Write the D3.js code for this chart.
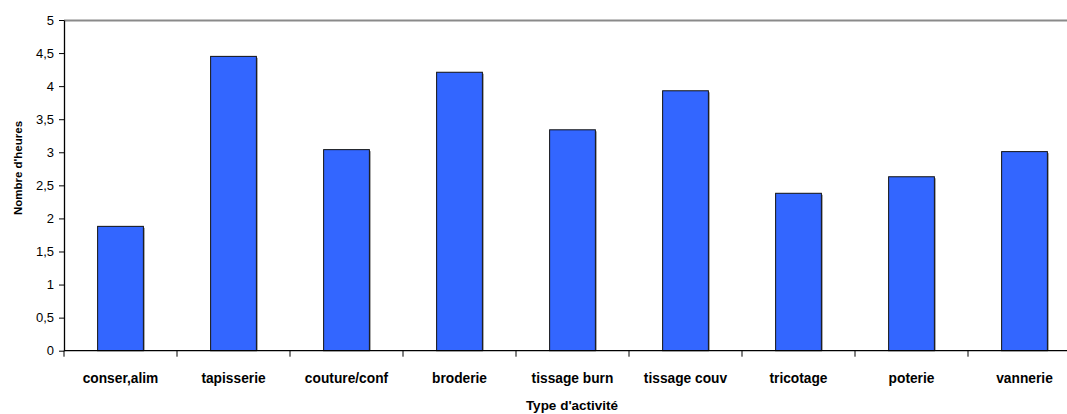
<!DOCTYPE html>
<html><head><meta charset="utf-8">
<script src="https://cdn.jsdelivr.net/npm/d3@7"></script>
<style>body{margin:0;background:#fff}svg{display:block}</style>
</head><body>
<script>
const categories = ["conser,alim","tapisserie","couture/conf","broderie","tissage burn","tissage couv","tricotage","poterie","vannerie"];
const values = [1.88,4.45,3.04,4.21,3.34,3.93,2.38,2.63,3.01];
const yTicks = [0,0.5,1,1.5,2,2.5,3,3.5,4,4.5,5];
const yTitle = "Nombre d'heures";
const xTitle = "Type d'activité";

const W=1067,H=414;
const mLeft=64, mRight=1081, mTop=20, mBottom=350.7;
const svg=d3.select("body").append("svg").attr("width",W).attr("height",H);
const font="'Liberation Sans', Arial, sans-serif";

const x=d3.scaleBand().domain(categories).range([mLeft,mRight]).padding(0);
const y=d3.scaleLinear().domain([0,5]).range([mBottom,mTop]);
const bw=x.bandwidth()*0.405;

// top border
svg.append("line").attr("x1",mLeft).attr("x2",mRight).attr("y1",mTop+0.5).attr("y2",mTop+0.5)
  .attr("stroke","#8a8a8a").attr("stroke-width",2);

// bars shadow
svg.append("g").selectAll("rect").data(values).join("rect")
  .attr("x",(d,i)=>x(categories[i])+x.bandwidth()/2-bw/2+1.5)
  .attr("y",d=>y(d)+1.5).attr("width",bw).attr("height",d=>mBottom-y(d)-1.5)
  .attr("fill","#a0a0a0");
svg.append("g").selectAll("rect").data(values).join("rect")
  .attr("x",(d,i)=>x(categories[i])+x.bandwidth()/2-bw/2)
  .attr("y",d=>y(d)).attr("width",bw).attr("height",d=>mBottom-y(d))
  .attr("fill","#3366ff").attr("stroke","#111").attr("stroke-width",1);

// y axis
const ya=svg.append("g").attr("transform",`translate(${mLeft},0)`)
  .call(d3.axisLeft(y).tickValues(yTicks).tickSize(5).tickSizeOuter(0)
    .tickFormat(d=>String(d).replace(".",",")));
ya.select(".domain").attr("stroke","#000").attr("stroke-width",1.3);
ya.selectAll(".tick line").attr("stroke","#000");
ya.selectAll("text").attr("font-family",font).attr("font-size",13).attr("fill","#000").attr("x",-10);

// x axis
const xa=svg.append("g").attr("transform",`translate(0,${mBottom})`);
xa.append("line").attr("x1",mLeft).attr("x2",mRight).attr("y1",0).attr("y2",0).attr("stroke","#000").attr("stroke-width",1.3);
const bounds=categories.map(c=>x(c)).concat([mRight]);
xa.selectAll("line.t").data(bounds).join("line").attr("class","t")
  .attr("x1",d=>d).attr("x2",d=>d).attr("y1",0).attr("y2",6).attr("stroke","#000");
xa.selectAll("text").data(categories).join("text")
  .attr("x",d=>x(d)+x.bandwidth()/2).attr("y",32.5)
  .attr("text-anchor","middle").attr("font-family",font).attr("font-size",13.75).attr("font-weight","bold")
  .text(d=>d);

svg.append("text").attr("x",572).attr("y",410).attr("text-anchor","middle")
  .attr("font-family",font).attr("font-size",13.5).attr("font-weight","bold").text(xTitle);
svg.append("text").attr("transform","translate(22,168) rotate(-90)").attr("text-anchor","middle")
  .attr("font-family",font).attr("font-size",11.5).attr("font-weight","bold").text(yTitle);
</script>
</body></html>
